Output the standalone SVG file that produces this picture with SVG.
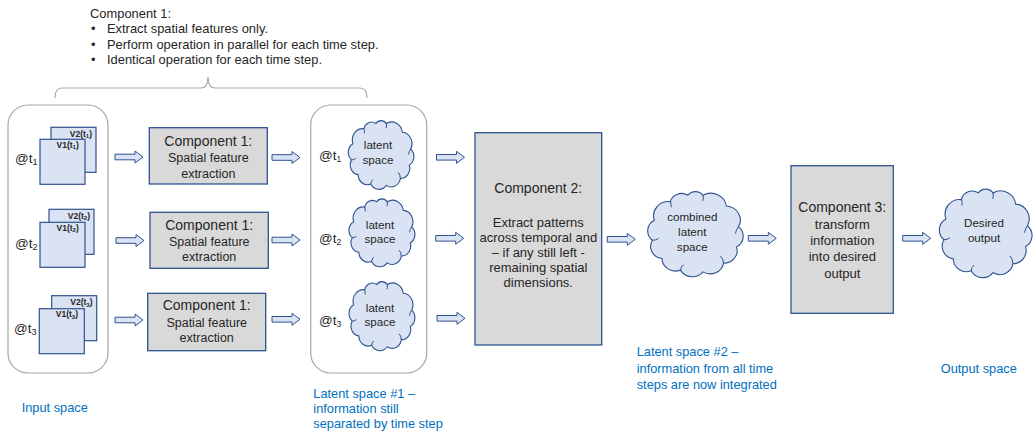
<svg xmlns="http://www.w3.org/2000/svg" xmlns:xlink="http://www.w3.org/1999/xlink" width="1035" height="432" viewBox="0 0 1035 432">
<defs>
<style>
text{font-family:"Liberation Sans",Arial,sans-serif;fill:#262626}
.top{font-size:12.9px}
.blue{font-size:12.8px;fill:#0070c0}
.cont{fill:#fff;stroke:#a6a6a6;stroke-width:1.2}
.comp{fill:#d9d9d9;stroke:#2f528f;stroke-width:1.3}
.sq{fill:#dae3f3;stroke:#2f528f;stroke-width:1.2}
.arr{fill:#dae3f3;stroke:#2f528f;stroke-width:1}
.cloud{fill:#dae3f3;stroke:#2f528f;stroke-width:1.1;vector-effect:non-scaling-stroke}
.curl{fill:none;stroke:#2f528f;stroke-width:1;vector-effect:non-scaling-stroke}
.h1{font-size:14px}
.h2{font-size:12.5px}
.h3{font-size:13px}
.cl{font-size:11.6px}
.at{font-size:13.5px}
.v{font-size:8.5px;font-weight:bold}
</style>
<path id="arrow" class="arr" d="M0,-2.8 H20 V-6 L28,0 L20,6 V2.8 H0 Z"/>
<g id="cloudshape">
<path class="cloud" d="M57.3,10.6 A15,15 0 0 1 79.7,21.7 A14.5,14.5 0 0 1 91.4,43.1 A12.5,12.5 0 0 1 89.5,63.7 A13,13 0 0 1 77,80.6 A13,13 0 0 1 57.3,89.4 A13,13 0 0 1 35.6,87.6 A13,13 0 0 1 17.8,75.7 A12.5,12.5 0 0 1 8.6,56.9 A12.5,12.5 0 0 1 10.5,36.3 A14.5,14.5 0 0 1 25.9,17.2 A11,11 0 0 1 42.7,10.6 A9,9 0 0 1 57.3,10.6 Z"/>
<path class="curl" d="M91.4,43.1 Q89,46 88.5,50 M77,80.6 Q77,76 74,73 M35.6,87.6 Q36,84 38.5,82 M8.6,56.9 Q12,57 14.5,55 M25.9,17.2 Q27,20 26.5,23 M57.3,10.6 Q58,14 57,16.5"/>
</g>
</defs>

<g id="annotation">
<text class="top" x="90" y="17.5">Component 1:</text>
<text class="top" x="91" y="33">•</text><text class="top" x="107" y="33">Extract spatial features only.</text>
<text class="top" x="91" y="48.5">•</text><text class="top" x="107" y="48.5">Perform operation in parallel for each time step.</text>
<text class="top" x="91" y="64">•</text><text class="top" x="107" y="64">Identical operation for each time step.</text>
<path d="M55,98 Q55,88 62,88 H201 Q208,88 208,77 Q208,88 215,88 H360 Q367,88 367,98" fill="none" stroke="#a6a6a6" stroke-width="1.2"/>
</g>

<g id="input-space">
<rect class="cont" x="8" y="105" width="100" height="268" rx="20"/>
<g id="input-t1">
<rect class="sq" x="51" y="127.3" width="45" height="45"/>
<rect class="sq" x="40" y="139.3" width="45" height="45"/>
<text class="v" x="92" y="136.5" text-anchor="end">V2(t<tspan font-size="6" dy="1.5">1</tspan><tspan dy="-1.5">)</tspan></text>
<text class="v" x="56.5" y="147.5">V1(t<tspan font-size="6" dy="1.5">1</tspan><tspan dy="-1.5">)</tspan></text>
<text class="at" x="15" y="163">@t<tspan font-size="9" dy="2">1</tspan></text>
</g>
<g id="input-t2">
<rect class="sq" x="49" y="209.3" width="45" height="45"/>
<rect class="sq" x="40" y="222.3" width="45" height="45"/>
<text class="v" x="90" y="218.5" text-anchor="end">V2(t<tspan font-size="6" dy="1.5">2</tspan><tspan dy="-1.5">)</tspan></text>
<text class="v" x="56.5" y="230.5">V1(t<tspan font-size="6" dy="1.5">2</tspan><tspan dy="-1.5">)</tspan></text>
<text class="at" x="15" y="247.5">@t<tspan font-size="9" dy="2">2</tspan></text>
</g>
<g id="input-t3">
<rect class="sq" x="51.7" y="295.7" width="45" height="45"/>
<rect class="sq" x="39.3" y="308.7" width="45" height="45"/>
<text class="v" x="92.5" y="305" text-anchor="end">V2(t<tspan font-size="6" dy="1.5">3</tspan><tspan dy="-1.5">)</tspan></text>
<text class="v" x="55.8" y="317">V1(t<tspan font-size="6" dy="1.5">3</tspan><tspan dy="-1.5">)</tspan></text>
<text class="at" x="14" y="333">@t<tspan font-size="9" dy="2">3</tspan></text>
</g>
</g>

<g id="comp1-a">
<rect class="comp" x="149.3" y="127.7" width="118" height="56.3"/>
<text class="h1" x="208.3" y="146" text-anchor="middle">Component 1:</text>
<text class="h2" x="208.3" y="162.3" text-anchor="middle">Spatial feature</text>
<text class="h2" x="208.3" y="177.7" text-anchor="middle">extraction</text>
</g>
<g id="comp1-b">
<rect class="comp" x="150" y="212.3" width="118.3" height="56"/>
<text class="h1" x="209.2" y="229.5" text-anchor="middle">Component 1:</text>
<text class="h2" x="209.2" y="246" text-anchor="middle">Spatial feature</text>
<text class="h2" x="209.2" y="261" text-anchor="middle">extraction</text>
</g>
<g id="comp1-c">
<rect class="comp" x="147.7" y="293.3" width="118" height="57.4"/>
<text class="h1" x="206.7" y="310.3" text-anchor="middle">Component 1:</text>
<text class="h2" x="206.7" y="326.7" text-anchor="middle">Spatial feature</text>
<text class="h2" x="206.7" y="342.3" text-anchor="middle">extraction</text>
</g>

<g id="latent-space-1">
<rect class="cont" x="310.7" y="105" width="116" height="268" rx="20"/>
<g id="latent-t1">
<use xlink:href="#cloudshape" href="#cloudshape" transform="translate(345.4,115.2) scale(0.714,0.785)"/>
<text class="cl" x="378" y="149.3" text-anchor="middle">latent</text>
<text class="cl" x="378" y="164.3" text-anchor="middle">space</text>
<text class="at" x="319" y="160">@t<tspan font-size="8.5" dy="2">1</tspan></text>
</g>
<g id="latent-t2">
<use xlink:href="#cloudshape" href="#cloudshape" transform="translate(346.1,193.6) scale(0.717,0.775)"/>
<text class="cl" x="380" y="229.3" text-anchor="middle">latent</text>
<text class="cl" x="380" y="242.7" text-anchor="middle">space</text>
<text class="at" x="319" y="242.7">@t<tspan font-size="8.5" dy="2">2</tspan></text>
</g>
<g id="latent-t3">
<use xlink:href="#cloudshape" href="#cloudshape" transform="translate(346.1,276.2) scale(0.717,0.789)"/>
<text class="cl" x="380" y="312.3" text-anchor="middle">latent</text>
<text class="cl" x="380" y="326" text-anchor="middle">space</text>
<text class="at" x="319" y="325">@t<tspan font-size="8.5" dy="2">3</tspan></text>
</g>
</g>

<g id="comp2">
<rect class="comp" x="475" y="132.7" width="126.7" height="212.3"/>
<text class="h1" x="538.3" y="193.3" text-anchor="middle" font-size="14.8">Component 2:</text>
<text class="h3" x="538.3" y="226.7" text-anchor="middle">Extract patterns</text>
<text class="h3" x="538.3" y="241.7" text-anchor="middle">across temporal and</text>
<text class="h3" x="538.3" y="256.7" text-anchor="middle">– if any still left -</text>
<text class="h3" x="538.3" y="271.7" text-anchor="middle">remaining spatial</text>
<text class="h3" x="538.3" y="286.7" text-anchor="middle">dimensions.</text>
</g>

<g id="latent-space-2">
<use xlink:href="#cloudshape" href="#cloudshape" transform="translate(643.5,184.9) scale(1.039,0.973)"/>
<text class="cl" x="692.3" y="220.7" text-anchor="middle">combined</text>
<text class="cl" x="692.3" y="236" text-anchor="middle">latent</text>
<text class="cl" x="692.3" y="251" text-anchor="middle">space</text>
</g>

<g id="comp3">
<rect class="comp" x="791" y="165.7" width="102.3" height="147.6"/>
<text class="h1" x="842.3" y="212.3" text-anchor="middle">Component 3:</text>
<text class="h3" x="842.3" y="228.5" text-anchor="middle">transform</text>
<text class="h3" x="842.3" y="245" text-anchor="middle">information</text>
<text class="h3" x="842.3" y="261.3" text-anchor="middle">into desired</text>
<text class="h3" x="842.3" y="277.7" text-anchor="middle">output</text>
</g>

<g id="output">
<use xlink:href="#cloudshape" href="#cloudshape" transform="translate(935.3,182.2) scale(1.008,1.011)"/>
<text class="cl" x="984" y="227.3" text-anchor="middle">Desired</text>
<text class="cl" x="984" y="241.7" text-anchor="middle">output</text>
</g>

<g id="connectors">
<use xlink:href="#arrow" href="#arrow" x="115" y="157"/>
<use xlink:href="#arrow" href="#arrow" x="116" y="240.5"/>
<use xlink:href="#arrow" href="#arrow" x="115" y="320"/>
<use xlink:href="#arrow" href="#arrow" x="272" y="157.5"/>
<use xlink:href="#arrow" href="#arrow" x="272" y="240"/>
<use xlink:href="#arrow" href="#arrow" x="272" y="319.3"/>
<use xlink:href="#arrow" href="#arrow" x="436.5" y="157.3"/>
<use xlink:href="#arrow" href="#arrow" x="435.7" y="238.3"/>
<use xlink:href="#arrow" href="#arrow" x="437" y="318.3"/>
<use xlink:href="#arrow" href="#arrow" x="607.3" y="239.3"/>
<use xlink:href="#arrow" href="#arrow" x="748.3" y="238.3"/>
<use xlink:href="#arrow" href="#arrow" x="902.7" y="238.3"/>
</g>

<g id="labels">
<text class="blue" x="21.7" y="411.5">Input space</text>
<text class="blue" x="313.3" y="397.5">Latent space #1 –</text>
<text class="blue" x="313.3" y="412.5">information still</text>
<text class="blue" x="313.3" y="427.5">separated by time step</text>
<text class="blue" x="636.7" y="356">Latent space #2 –</text>
<text class="blue" x="636.7" y="372.5">information from all time</text>
<text class="blue" x="636.7" y="389">steps are now integrated</text>
<text class="blue" x="940.7" y="372.7">Output space</text>
</g>
</svg>
